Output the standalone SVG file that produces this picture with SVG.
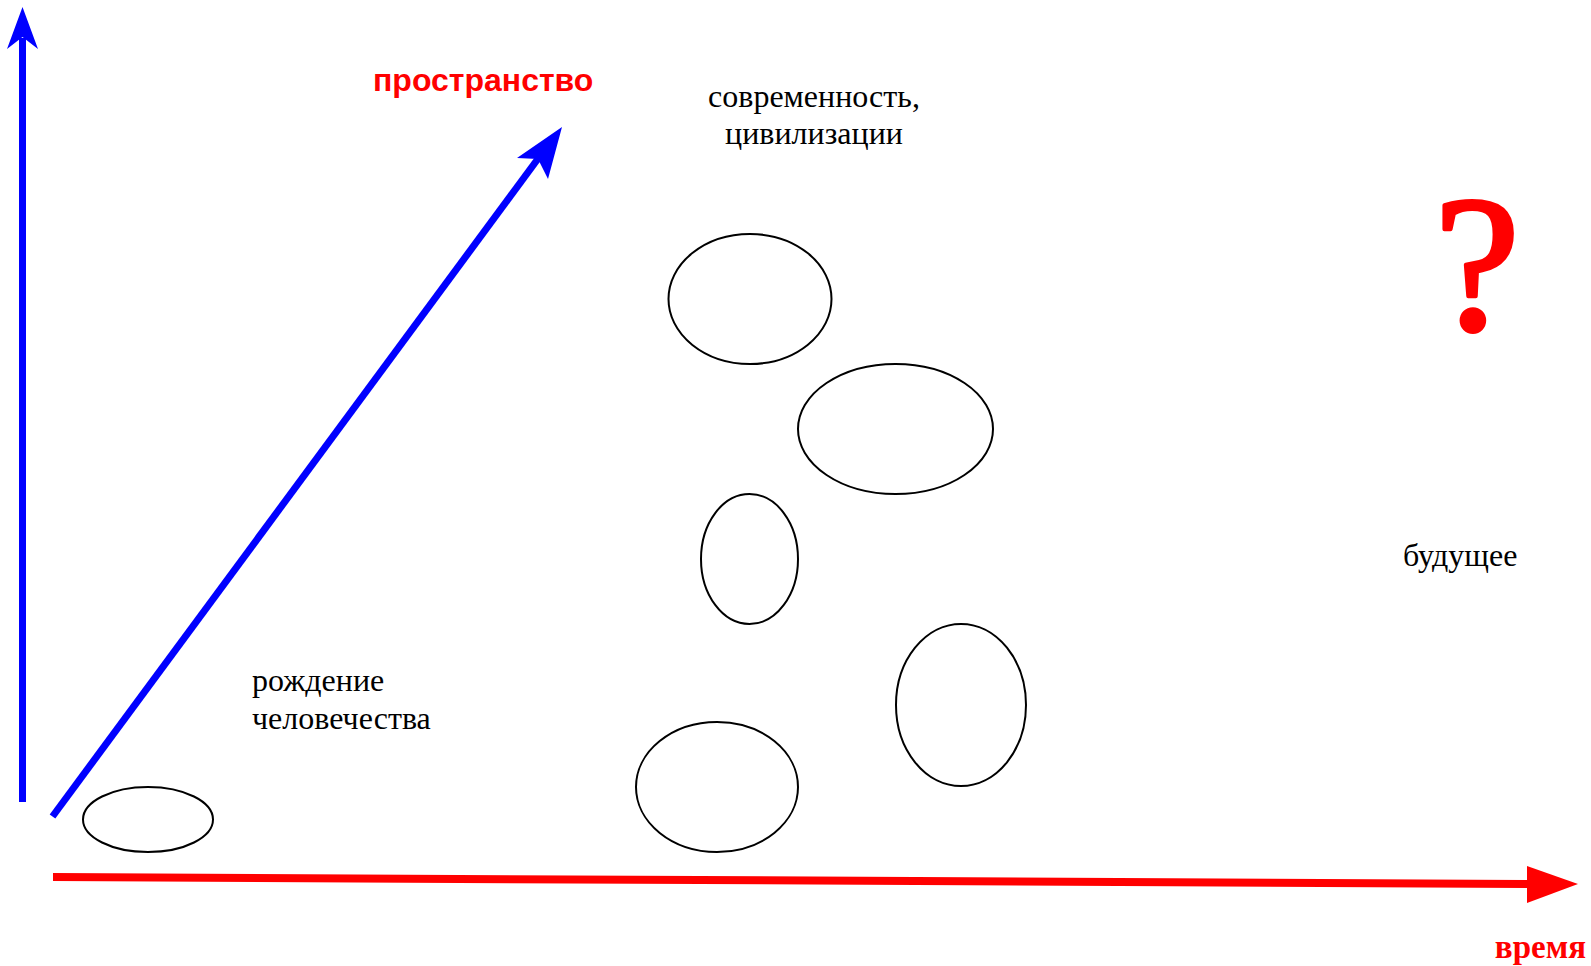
<svg xmlns="http://www.w3.org/2000/svg" width="1591" height="966" viewBox="0 0 1591 966">
<style>
.node ellipse{fill:none;stroke:#000;stroke-width:2}
.lbl{font-family:"Liberation Serif","Times New Roman",serif;font-size:32px;fill:#000}
.red{fill:#ff0000}
.blue{fill:#0000ff}
</style>
<rect width="1591" height="966" fill="#fff"/>
<g id="connectors">
  <g id="axis-vertical">
    <line x1="22.5" y1="802" x2="22.5" y2="38" stroke="#0000ff" stroke-width="7"/>
    <polygon class="blue" points="22.5,7 38,49 22.5,37 7,49"/>
  </g>
  <g id="axis-space">
    <line x1="52.5" y1="816.5" x2="540" y2="156" stroke="#0000ff" stroke-width="7"/>
    <polygon class="blue" points="562,127 548,179 538,159 517,158"/>
  </g>
  <g id="axis-time">
    <line x1="53" y1="877" x2="1530" y2="884" stroke="#ff0000" stroke-width="8"/>
    <polygon class="red" points="1527,866 1578,884 1527,903"/>
  </g>
</g>
<g id="node-e0" class="node"><ellipse cx="148" cy="819.5" rx="65" ry="32.5"/></g>
<g id="node-e1" class="node"><ellipse cx="750" cy="299" rx="81.5" ry="65"/></g>
<g id="node-e2" class="node"><ellipse cx="895.5" cy="429" rx="97.5" ry="65"/></g>
<g id="node-e3" class="node"><ellipse cx="749.5" cy="559" rx="48.5" ry="65"/></g>
<g id="node-e4" class="node"><ellipse cx="961" cy="705" rx="65" ry="81"/></g>
<g id="node-e5" class="node"><ellipse cx="717" cy="787" rx="81" ry="65"/></g>
<g id="label-space"><text x="373" y="91" font-family="Liberation Sans,Arial,sans-serif" font-weight="bold" font-size="32" fill="#ff0000">пространство</text></g>
<g id="label-time"><text x="1586" y="958" text-anchor="end" font-family="Liberation Serif,Times New Roman,serif" font-weight="bold" font-size="33" fill="#ff0000">время</text></g>
<g id="label-modern"><text class="lbl" text-anchor="middle"><tspan x="814" y="107">современность,</tspan><tspan x="814" y="144">цивилизации</tspan></text></g>
<g id="label-birth"><text class="lbl"><tspan x="252" y="691">рождение</tspan><tspan x="252" y="729">человечества</tspan></text></g>
<g id="label-future"><text class="lbl" x="1403" y="566">будущее</text></g>
<g id="label-question"><text x="1477" y="329" text-anchor="middle" font-family="Liberation Serif,Times New Roman,serif" font-size="192" fill="#ff0000" stroke="#ff0000" stroke-width="4" stroke-linejoin="round">?</text></g>
</svg>
